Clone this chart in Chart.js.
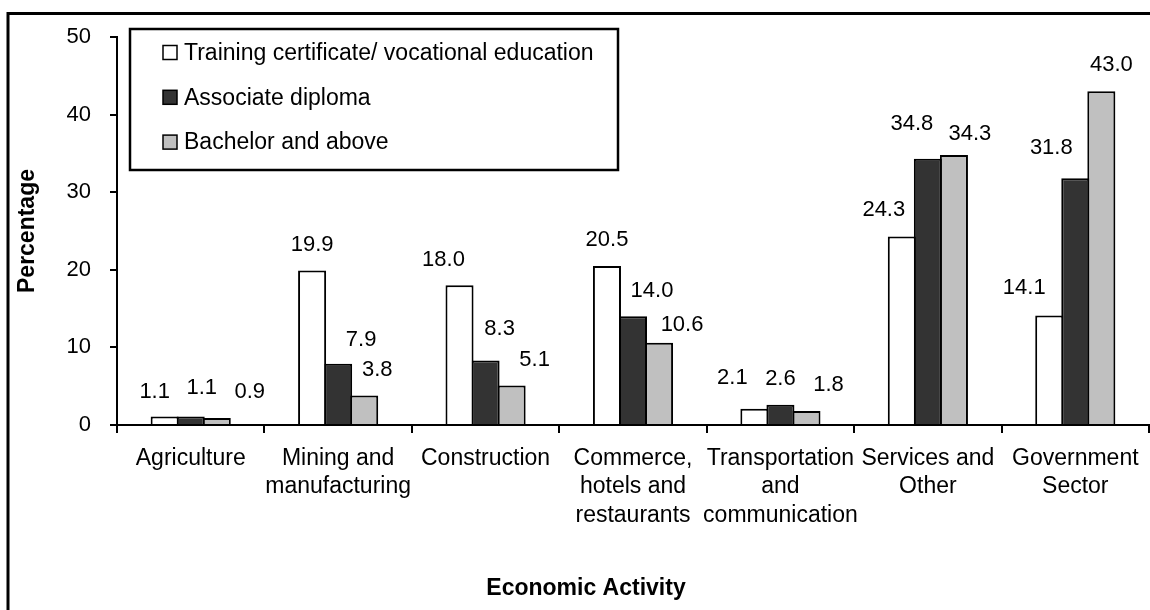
<!DOCTYPE html>
<html>
<head>
<meta charset="utf-8">
<script src="https://cdn.jsdelivr.net/npm/chart.js@4.4.1/dist/chart.umd.min.js"></script>
<style>
  html, body { margin: 0; padding: 0; background: #fff; }
  #wrap { width: 1150px; height: 610px; }
</style>
</head>
<body>
<div id="wrap"><canvas id="chart" width="1150" height="610"></canvas></div>
<script>
// Chart data
var categories = [
  "Agriculture",
  ["Mining and", "manufacturing"],
  "Construction",
  ["Commerce,", "hotels and", "restaurants"],
  ["Transportation", "and", "communication"],
  ["Services and", "Other"],
  ["Government", "Sector"]
];
var seriesNames = [
  "Training certificate/ vocational education",
  "Associate diploma",
  "Bachelor and above"
];
var trainingValues = [1.1, 19.9, 18.0, 20.5, 2.1, 24.3, 14.1];
var associateValues = [1.1, 7.9, 8.3, 14.0, 2.6, 34.3, 31.8];
var bachelorValues = [0.9, 3.8, 5.1, 10.6, 1.8, 34.8, 43.0];
var yTicks = [0, 10, 20, 30, 40, 50];

var FONT = '"Liberation Sans", Arial, sans-serif';
var fills = ["#ffffff", "#333333", "#c0c0c0"];

// Value labels above the bars (label nudges copied from the original, which were moved by hand)
var valueLabels = {
  id: "valueLabels",
  afterDatasetsDraw: function (chart, args, opts) {
    var ctx = chart.ctx;
    ctx.save();
    ctx.font = "22px " + FONT;
    ctx.fillStyle = "#000";
    ctx.textAlign = "center";
    ctx.textBaseline = "middle";
    chart.data.datasets.forEach(function (ds, di) {
      var meta = chart.getDatasetMeta(di);
      meta.data.forEach(function (bar, i) {
        ctx.fillText(ds.data[i].toFixed(1), bar.x + opts.dx[di][i], bar.y - opts.dy[di][i]);
      });
    });
    ctx.restore();
  }
};

// Outer frame, boxed legend and x axis title
var decorations = {
  id: "decorations",
  beforeDraw: function (chart) {
    var ctx = chart.ctx;
    ctx.save();
    ctx.fillStyle = "#fff";
    ctx.fillRect(0, 0, chart.width, chart.height);
    ctx.restore();
  },
  afterDraw: function (chart, args, opts) {
    var ctx = chart.ctx;
    ctx.save();

    // frame (right and bottom edges fall outside the picture)
    ctx.strokeStyle = "#000";
    ctx.lineWidth = 3;
    ctx.strokeRect(8, 13.5, 1200, 700);

    // legend box
    var lg = opts.legend;
    ctx.fillStyle = "#fff";
    ctx.fillRect(lg.x, lg.y, lg.w, lg.h);
    ctx.lineWidth = 2.5;
    ctx.strokeRect(lg.x, lg.y, lg.w, lg.h);

    ctx.font = "23px " + FONT;
    ctx.textAlign = "left";
    ctx.textBaseline = "middle";
    chart.data.datasets.forEach(function (ds, i) {
      var cy = lg.firstRow + i * lg.rowGap;
      ctx.fillStyle = ds.backgroundColor;
      ctx.fillRect(lg.markerX, cy - 7, 14, 14);
      ctx.lineWidth = 1.5;
      ctx.strokeStyle = "#000";
      ctx.strokeRect(lg.markerX, cy - 7, 14, 14);
      ctx.fillStyle = "#000";
      ctx.fillText(ds.label, lg.textX, cy + 1);
    });

    // x axis title
    ctx.font = "bold 23px " + FONT;
    ctx.textAlign = "center";
    ctx.fillText("Economic Activity", opts.xTitle.x, opts.xTitle.y);
    ctx.restore();
  }
};

// bars slightly wider than their slot so neighbouring outlines overlap into one line
var seriesValues = [trainingValues, associateValues, bachelorValues];
var datasets = seriesValues.map(function (vals, i) {
  return {
    label: seriesNames[i],
    data: vals,
    backgroundColor: fills[i],
    borderColor: "#000",
    borderWidth: 2,
    borderSkipped: "start",
    categoryPercentage: 0.53,
    barPercentage: 1.077
  };
});

new Chart(document.getElementById("chart"), {
  type: "bar",
  data: { labels: categories, datasets: datasets },
  plugins: [decorations, valueLabels],
  options: {
    responsive: false,
    animation: false,
    devicePixelRatio: 1,
    layout: { padding: { left: 8, top: 37, right: 1, bottom: 0 } },
    plugins: {
      legend: { display: false },
      tooltip: { enabled: false },
      valueLabels: {
        dx: [
          [-10, 0, -16, 0, -22, -18, -25],
          [11, 23, 14, 19, 0, 42, -24],
          [33, 13, 23, 23, 22, -42, 10]
        ],
        dy: [
          [25, 26, 25, 26, 31, 26, 28],
          [29, 24, 32, 25, 26, 25, 30],
          [26, 26, 25, 18, 26, 31, 26]
        ]
      },
      decorations: {
        legend: { x: 130, y: 29, w: 488, h: 141, markerX: 163, textX: 184, firstRow: 52.5, rowGap: 44.8 },
        xTitle: { x: 586, y: 589 }
      }
    },
    scales: {
      x: {
        grid: {
          display: true,
          drawOnChartArea: false,
          drawTicks: true,
          tickLength: 8,
          color: "#000",
          lineWidth: 2,
          offset: true
        },
        border: { display: true, color: "#000", width: 2 },
        ticks: {
          color: "#000",
          font: { family: FONT, size: 23, lineHeight: 1.25 },
          padding: 11,
          maxRotation: 0,
          autoSkip: false
        },
        afterFit: function (scale) {
          scale.height = 185;
        }
      },
      y: {
        min: yTicks[0],
        max: yTicks[yTicks.length - 1],
        grid: {
          drawOnChartArea: false,
          tickLength: 7,
          color: "#000",
          lineWidth: 2
        },
        border: { display: true, color: "#000", width: 2 },
        ticks: {
          stepSize: yTicks[1] - yTicks[0],
          color: "#000",
          font: { family: FONT, size: 22 },
          padding: 19
        },
        title: {
          display: true,
          text: "Percentage",
          color: "#000",
          font: { family: FONT, size: 23, weight: "bold" },
          padding: { top: 6, bottom: 0 }
        },
        afterFit: function (scale) {
          scale.width = 109;
        }
      }
    }
  }
});
</script>
</body>
</html>
